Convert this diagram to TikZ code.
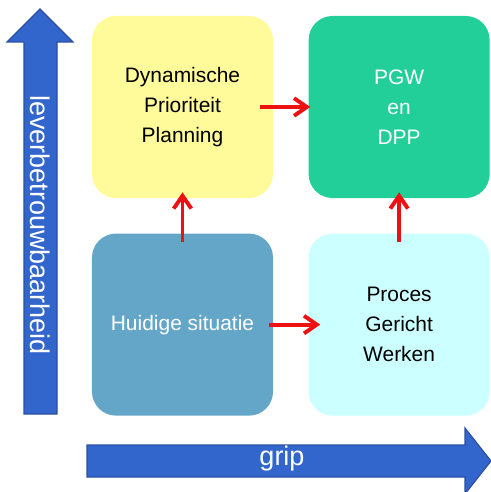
\documentclass[tikz,border=0pt]{standalone}
\usepackage{fontspec}
\setmainfont{Liberation Sans}
\usetikzlibrary{positioning, arrows.meta}

\definecolor{dppyellow}{HTML}{FFFA9A}
\definecolor{pgwgreen}{HTML}{22CF98}
\definecolor{nowblue}{HTML}{64A6C8}
\definecolor{pgwcyan}{HTML}{CCFFFF}
\definecolor{axisblue}{HTML}{3366CC}
\definecolor{axisedge}{HTML}{2B4FA0}
\definecolor{steparrow}{HTML}{EE1111}

\begin{document}
\begin{tikzpicture}[
    x=0.025cm, y=-0.025cm,
    box/.style={rounded corners=0.6cm, minimum width=4.525cm, minimum height=4.55cm, inner sep=0pt,
        align=center, font=\fontsize{14.9}{21.3}\selectfont},
    redarrow/.style={-{Straight Barb[length=3.2mm, width=4.4mm]}, steparrow, line width=2.8pt},
    axis/.style={fill=axisblue, draw=axisedge, line width=0.8pt},
    axislabel/.style={text=white, font=\fontsize{19.2}{23}\selectfont},
]
    \useasboundingbox (0,0) rectangle (491,492);

    % Axes
    \draw[axis] (24,414) -- (24,42) -- (7,42) -- (40,9) -- (73,42) -- (57,42) -- (57,414) -- cycle;
    \draw[axis] (87,445) -- (465,445) -- (465,428) -- (491,461) -- (465,494) -- (465,477) -- (87,477) -- cycle;
    \node[axislabel, rotate=-90] (lever) at (40,225) {leverbetrouwbaarheid};
    \node[axislabel] (grip) at (282,459) {grip};

    % Quadrants
    \node[box, fill=dppyellow] (dpp) at (182.5,107) {Dynamische\\Prioriteit\\Planning};
    \node[box, fill=pgwgreen, text=white, right=0.875cm of dpp] (pgwdpp) {PGW\\en\\DPP};
    \node[box, fill=nowblue, text=white, below=0.875cm of dpp] (huidig) {Huidige situatie};
    \node[box, fill=pgwcyan, right=0.875cm of huidig] (pgw) {Proces\\Gericht\\Werken};

    % Steps
    \draw[redarrow] ([xshift=-0.33cm]dpp.east) -- ([xshift=0.05cm]pgwdpp.west);
    \draw[redarrow] ([xshift=-0.1cm]huidig.east) -- ([xshift=0.3cm]pgw.west);
    \draw[redarrow] ([yshift=-0.225cm]huidig.north) -- ([yshift=0.15cm]dpp.south);
    \draw[redarrow] ([yshift=-0.225cm]pgw.north) -- ([yshift=0.15cm]pgwdpp.south);

\end{tikzpicture}
\end{document}
